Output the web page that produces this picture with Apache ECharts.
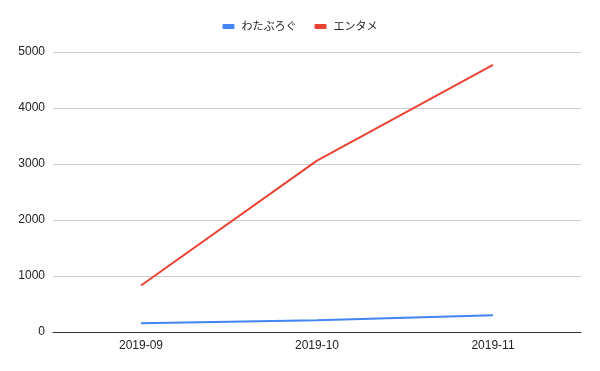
<!DOCTYPE html>
<html>
<head>
<meta charset="utf-8">
<script src="https://cdn.jsdelivr.net/npm/echarts@6/dist/echarts.min.js"></script>
<style>html,body{margin:0;padding:0;background:#fff;}#c{width:600px;height:371px;}</style>
</head>
<body>
<div id="c"></div>
<script>
const categories = ['2019-09', '2019-10', '2019-11'];
const seriesNames = ['わたぶろぐ', 'エンタメ'];
const watablogValues = [155, 210, 298];
const entameValues = [830, 3060, 4770];
const yTicks = [0, 1000, 2000, 3000, 4000, 5000];

const chart = echarts.init(document.getElementById('c'));
const font = 'Arial, "Liberation Sans", "Noto Sans CJK JP", sans-serif';
chart.setOption({
  animation: false,
  color: ['#4285f4', '#ea4335'],
  legend: {
    top: 16,
    left: 'center',
    icon: 'roundRect',
    itemWidth: 12,
    itemHeight: 5,
    itemGap: 18,
    textStyle: { fontFamily: font, fontSize: 11, color: '#222', padding: [0, 0, 0, 2] },
    data: seriesNames
  },
  grid: { left: 53, right: 19, top: 52, bottom: 39, containLabel: false },
  xAxis: {
    type: 'category',
    data: categories,
    boundaryGap: true,
    axisLine: { lineStyle: { color: '#333', width: 1 } },
    axisTick: { show: false },
    axisLabel: { fontFamily: font, fontSize: 12, color: '#222', margin: 8 }
  },
  yAxis: {
    type: 'value',
    min: yTicks[0],
    max: yTicks[yTicks.length - 1],
    interval: 1000,
    axisLine: { show: false },
    axisTick: { show: false },
    splitLine: { lineStyle: { color: '#ccc', width: 1 } },
    axisLabel: { fontFamily: font, fontSize: 12, color: '#222', margin: 8, formatter: v => String(v) }
  },
  series: [
    { name: seriesNames[0], type: 'line', data: watablogValues, showSymbol: false, lineStyle: { width: 2 } },
    { name: seriesNames[1], type: 'line', data: entameValues, showSymbol: false, lineStyle: { width: 2 } }
  ]
});
</script>
</body>
</html>
